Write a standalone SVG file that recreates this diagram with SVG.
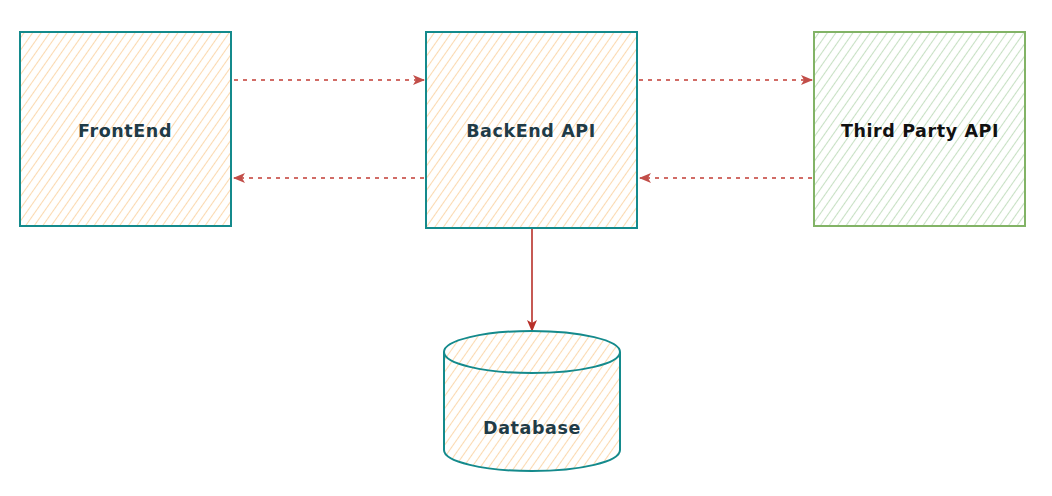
<svg xmlns="http://www.w3.org/2000/svg" width="1052" height="496" viewBox="0 0 1052 496">
<defs>
<pattern id="hO" width="7" height="7" patternUnits="userSpaceOnUse" patternTransform="rotate(-55)">
<line x1="0" y1="3.5" x2="7" y2="3.5" stroke="#fbd9b0" stroke-width="1.1"/>
</pattern>
<pattern id="hG" width="7" height="7" patternUnits="userSpaceOnUse" patternTransform="rotate(-55)">
<line x1="0" y1="3.5" x2="7" y2="3.5" stroke="#c7e0c3" stroke-width="1.1"/>
</pattern>
<marker id="ah" viewBox="0 0 12 10" refX="11" refY="5" markerWidth="12" markerHeight="10" markerUnits="userSpaceOnUse" orient="auto">
<path d="M0,0 L12,5 L0,10 L3,5 Z" fill="#b8302a"/>
</marker>
</defs>
<style>
.box{stroke:#148a8c;stroke-width:2;fill:url(#hO)}
.boxg{stroke:#82b366;stroke-width:2;fill:url(#hG)}
.lbl{font-family:"DejaVu Sans","Liberation Sans",sans-serif;font-weight:700;font-size:17.5px;letter-spacing:0.6px;fill:#1f3b47;text-anchor:middle}
.dash{stroke:#c9534c;stroke-width:2;stroke-dasharray:4 5;fill:none;opacity:.85}
.solid{stroke:#b8302a;stroke-width:1.6;fill:none}
</style>
<rect width="1052" height="496" fill="#ffffff"/>
<g id="connectors">
<line class="dash" x1="234" y1="80" x2="424" y2="80" marker-end="url(#ah)"/>
<line class="dash" x1="424" y1="178" x2="234" y2="178" marker-end="url(#ah)"/>
<line class="dash" x1="639" y1="80" x2="812" y2="80" marker-end="url(#ah)"/>
<line class="dash" x1="812" y1="178" x2="640" y2="178" marker-end="url(#ah)"/>
<line class="solid" x1="532" y1="229" x2="532" y2="331" marker-end="url(#ah)"/>
</g>
<g id="frontend">
<rect class="box" x="20" y="32" width="211" height="194"/>
<text class="lbl" x="125" y="137">FrontEnd</text>
</g>
<g id="backend">
<rect class="box" x="426" y="32" width="211" height="196"/>
<text class="lbl" x="531" y="137">BackEnd API</text>
</g>
<g id="thirdparty">
<rect class="boxg" x="814" y="32" width="211" height="194"/>
<text class="lbl" x="920" y="137" style="fill:#111">Third Party API</text>
</g>
<g id="database">
<path class="box" d="M444,352 A88,21 0 0 1 620,352 L620,450 A88,21 0 0 1 444,450 Z"/>
<path d="M444,352 A88,21 0 0 0 620,352" fill="none" stroke="#148a8c" stroke-width="2"/>
<text class="lbl" x="532" y="434">Database</text>
</g>
</svg>
